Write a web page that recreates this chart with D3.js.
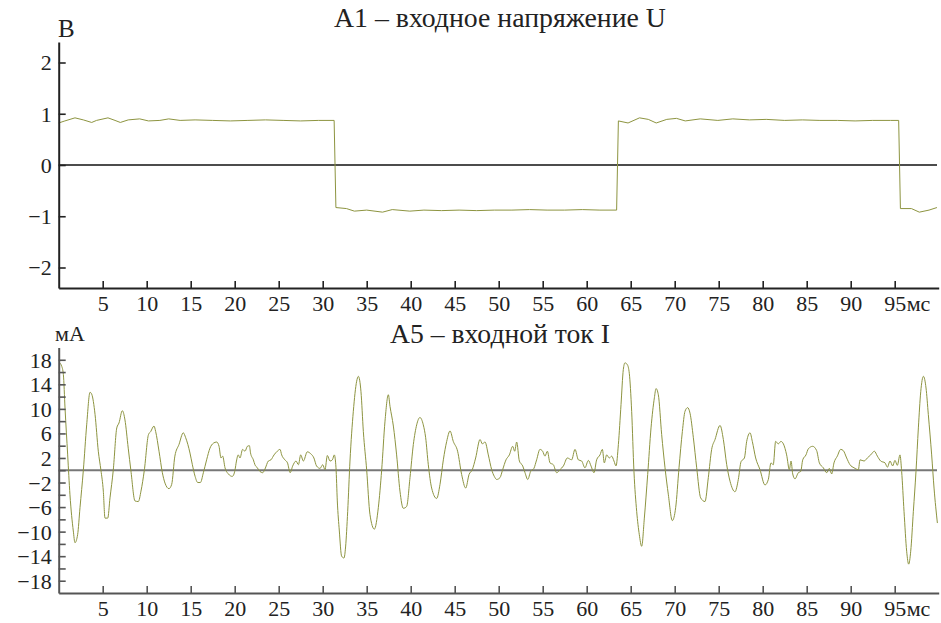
<!DOCTYPE html>
<html>
<head>
<meta charset="utf-8">
<script src="https://cdn.jsdelivr.net/npm/d3@7"></script>
<style>
  body { margin: 0; background: #fff; }
</style>
</head>
<body>
<div id="chart"></div>
<script>
// tick values
var xTicks = [5, 10, 15, 20, 25, 30, 35, 40, 45, 50, 55, 60, 65, 70, 75, 80, 85, 90, 95];
var uTicks = [-2, -1, 0, 1, 2];
var iTicks = [-18, -16, -14, -12, -10, -8, -6, -4, -2, 0, 2, 4, 6, 8, 10, 12, 14, 16, 18];
var iLabels = [-18, -14, -10, -6, -2, 2, 6, 10, 14, 18];

// A1 - input voltage, [ms, V]
var voltage = [
  [0, 0.82], [0.7, 0.86], [1.85, 0.92], [2.8, 0.88], [3.75, 0.83], [4.3, 0.87], [5.6, 0.92],
  [6.4, 0.87], [7.0, 0.83], [7.9, 0.88], [9.2, 0.90], [10.2, 0.86], [11.5, 0.87], [12.5, 0.90],
  [13.8, 0.87], [15.5, 0.88], [17.5, 0.87], [19.5, 0.86], [21.5, 0.87], [23.5, 0.88], [25.5, 0.87],
  [27.5, 0.86], [29.5, 0.87], [31.3, 0.87],
  [31.5, -0.83], [32.7, -0.85], [33.6, -0.90], [35.0, -0.88], [36.8, -0.92], [37.9, -0.87],
  [39.9, -0.90], [41.5, -0.88], [43.5, -0.89], [45.5, -0.88], [47.5, -0.89], [49.5, -0.88],
  [51.5, -0.88], [53.5, -0.87], [55.5, -0.88], [57.5, -0.88], [59.5, -0.87], [61.5, -0.88], [63.4, -0.88],
  [63.6, 0.86], [64.7, 0.82], [66.0, 0.92], [67.0, 0.89], [67.9, 0.82], [69.1, 0.89], [70.2, 0.91],
  [71.2, 0.86], [72.9, 0.90], [74.9, 0.87], [76.6, 0.90], [78.5, 0.88], [80.4, 0.89], [82.5, 0.87],
  [84.5, 0.88], [86.5, 0.87], [88.5, 0.87], [90.5, 0.86], [92.5, 0.87], [94.5, 0.87], [95.45, 0.87],
  [95.65, -0.85], [96.9, -0.85], [97.8, -0.92], [98.9, -0.88], [99.8, -0.83]
];

// A5 - input current, [ms, mA]
var current = [
  [0.03, 17.6], [0.33, 17.0], [0.53, 15.6], [0.72, 10.1], [1.02, 2.5], [1.28, -4], [1.66, -9.9],
  [1.85, -11.8], [2.15, -10.5], [2.42, -6.1], [2.8, 0], [3.18, 7.4], [3.56, 12.7], [3.75, 12.4],
  [4.13, 9.1], [4.5, 3.1], [4.8, 0], [5.07, -3.4], [5.26, -7.8], [5.57, -7.8], [5.83, -4.5], [6.2, 0],
  [6.6, 6.9], [6.85, 7.7], [7.23, 9.7], [7.53, 8.2], [7.9, 3.6], [8.2, 0], [8.67, -5.0], [9.05, -5.1],
  [9.35, -3.4], [9.73, 0], [10.2, 5.8], [10.45, 6.3], [10.83, 7.2], [11.02, 6.3], [11.4, 3.1],
  [11.78, -0.4], [12.08, -2.1], [12.53, -3.0], [12.84, -2.3], [13.2, 2.3], [13.67, 4.2], [14.16, 6.1],
  [14.43, 5.3], [14.92, 2.8], [15.19, 0.9], [15.5, -1.0], [15.8, -2.0], [16.1, -2.0], [16.44, -0.4],
  [16.81, 1.7], [17.19, 3.6], [17.57, 4.4], [17.95, 4.6], [18.22, 3.9], [18.44, 2.0], [18.63, 2.3],
  [18.9, 0.4], [19.28, -0.6], [19.73, -1.0], [20.03, 0], [20.2, 1.5], [20.4, 2.5], [20.6, 2.0],
  [20.9, 3.4], [21.17, 3.1], [21.44, 3.9], [21.67, 4.0], [21.8, 2.8], [22.12, 1.7], [22.3, 0.9],
  [22.57, 0.4], [22.87, -0.2], [23.18, -0.4], [23.44, 0.2], [23.82, 1.5], [24.12, 1.7], [24.47, 2.5],
  [24.84, 3.1], [25.15, 3.4], [25.34, 2.5], [25.7, 1.7], [26.0, 1.2], [26.3, -0.4], [26.59, 0.7],
  [26.97, 1.5], [27.24, 0.9], [27.5, 2.5], [27.8, 1.5], [28.25, 3.0], [28.63, 2.7], [29.0, 2.0],
  [29.3, 0.7], [29.7, 0.3], [30.0, 0.9], [30.26, 0.1], [30.53, 2.4], [30.83, 1.5], [31.1, 1.7],
  [31.32, 2.5], [31.51, 0.4], [31.66, -5.0], [31.89, -9.9], [32.15, -14.0], [32.42, -14.3],
  [32.6, -12.5], [32.84, -6.7], [33.1, 1.5], [33.48, 9.6], [33.86, 14.5], [34.05, 15.3], [34.35, 12.8],
  [34.62, 6.3], [35.0, 0], [35.37, -7.2], [35.87, -9.6], [36.32, -6.1], [36.7, 0], [37.08, 8.0],
  [37.46, 12.3], [37.65, 10.4], [38.03, 7.2], [38.4, 2.5], [38.78, -3.4], [39.16, -6.2], [39.54, -5.9],
  [39.92, -1.2], [40.3, 4.2], [40.68, 7.4], [41.05, 8.6], [41.43, 7.4], [41.7, 5.3], [42.0, 0.9],
  [42.38, -2.9], [42.95, -4.6], [43.33, -2.3], [43.71, 1.7], [44.09, 4.7], [44.47, 6.4], [44.84, 4.7],
  [45.33, 3.1], [45.79, -0.7], [46.25, -2.9], [46.63, -0.7], [47.0, 0.1], [47.38, 2.0], [47.88, 5.0],
  [48.14, 4.3], [48.45, 4.6], [48.82, 2.5], [49.2, 0.1], [49.5, -1.0], [49.77, -1.5], [50.15, -1.2],
  [50.45, 0.1], [50.83, 1.7], [51.21, 2.5], [51.59, 3.9], [51.82, 3.1], [52.04, 4.6], [52.35, 1.5],
  [52.73, 0.7], [52.99, -0.4], [53.3, -1.5], [53.63, -0.2], [54.0, 0.3], [54.31, 1.7], [54.69, 3.4],
  [54.99, 3.1], [55.26, 2.3], [55.53, 3.1], [55.83, 1.2], [56.21, 0.9], [56.59, -0.4], [56.97, 0.1],
  [57.35, 0.7], [57.8, 2.0], [58.29, 1.7], [58.67, 3.4], [59.05, 1.7], [59.43, 1.5], [59.8, 0.4],
  [60.19, 1.6], [60.49, 0.7], [60.83, -0.4], [61.13, 1.7], [61.51, 2.5], [61.78, 3.4], [62.0, 1.2],
  [62.27, 2.5], [62.57, 2.0], [62.84, 2.3], [63.1, 1.5], [63.33, 0.7], [63.6, 4.2], [63.9, 10.7],
  [64.16, 16.4], [64.35, 17.5], [64.62, 17.2], [64.84, 15.8], [65.11, 9.6], [65.37, -0.2], [65.68, -6.7],
  [65.98, -10.5], [66.25, -12.4], [66.55, -7.8], [66.93, -0.7], [67.31, 6.9], [67.69, 11.8],
  [67.88, 13.3], [68.14, 12.3], [68.52, 5.8], [68.9, 0.4], [69.28, -4.0], [69.73, -8.2], [70.11, -6.1],
  [70.49, 0.4], [70.87, 6.3], [71.17, 9.6], [71.47, 10.2], [71.74, 9.3], [72.12, 5.3], [72.5, 0.4],
  [72.95, -4.5], [73.44, -5.1], [73.82, -1.2], [74.2, 3.4], [74.58, 5.0], [75.15, 7.3], [75.53, 5.0],
  [75.91, 0.9], [76.29, -1.8], [76.85, -3.5], [77.23, -1.5], [77.54, 1.4], [77.92, 2.0], [78.18, 4.7],
  [78.56, 6.1], [78.82, 4.7], [79.2, 2.0], [79.69, 0.1], [80.26, -2.4], [80.64, -1.5], [80.94, 1.2],
  [81.2, 0.9], [81.47, 4.7], [81.77, 4.3], [82.07, 4.7], [82.35, 4.3], [82.72, 2.5], [83.03, 0.1],
  [83.22, 1.5], [83.41, -0.6], [83.67, -1.4], [84.05, -0.4], [84.32, -0.2], [84.55, 1.7], [84.92, 2.5],
  [85.19, 3.5], [85.68, 3.9], [86.13, 3.2], [86.44, 1.2], [86.89, 0.4], [87.27, -0.4], [87.57, 0.3],
  [87.84, -0.6], [88.1, 1.2], [88.48, 2.3], [88.86, 3.4], [89.16, 3.2], [89.54, 2.0], [89.92, 0.9],
  [90.38, 0.4], [90.87, 0.1], [91.06, 1.7], [91.52, 1.5], [91.89, 2.0], [92.27, 2.5], [92.69, 3.1],
  [93.03, 2.3], [93.41, 1.5], [93.9, 1.2], [94.17, 0.5], [94.47, 1.5], [94.77, 0.7], [95.03, 1.6],
  [95.3, 0.8], [95.6, 2.5], [95.79, -0.2], [96.06, -6.7], [96.36, -13.2], [96.59, -15.3], [96.82, -13.2],
  [97.12, -6.7], [97.42, -0.2], [97.69, 6.9], [97.96, 12.8], [98.26, 15.3], [98.56, 13.4], [98.82, 9.1],
  [99.2, 2.5], [99.47, -2.9], [99.85, -8.6]
];

var W = 941, H = 623;
var svg = d3.select("#chart").append("svg")
  .attr("width", W)
  .attr("height", H);
// all text in Liberation Serif, set as attribute on the root group
var root = svg.append("g")
  .attr("font-family", "Liberation Serif")
  .attr("font-size", 22)
  .attr("fill", "#222");

var x = d3.scaleLinear().domain([0, 100]).range([58.7, 938.7]);

function panel(opts) {
  var y = d3.scaleLinear().domain(opts.domain).range(opts.range);
  var g = root.append("g");

  // zero line
  g.append("line")
    .attr("x1", x(0)).attr("x2", 937)
    .attr("y1", y(0)).attr("y2", y(0))
    .attr("stroke", opts.zeroColor)
    .attr("stroke-width", opts.zeroWidth);

  // signal
  var line = d3.line()
    .curve(opts.curve)
    .x(function (d) { return x(d[0]); })
    .y(function (d) { return y(d[1]); });
  g.append("path")
    .datum(opts.data)
    .attr("d", line)
    .attr("fill", "none")
    .attr("stroke", "#8d9440")
    .attr("stroke-width", 1);

  // axes
  var xa = g.append("g")
    .attr("transform", "translate(0," + opts.range[0] + ")")
    .call(d3.axisBottom(x).tickValues(xTicks).tickSize(-7).tickSizeOuter(0).tickPadding(7));
  var ya = g.append("g")
    .attr("transform", "translate(" + x(0) + ",0)")
    .call(d3.axisLeft(y).tickValues(opts.ticks).tickSize(-7).tickSizeOuter(0).tickPadding(7)
      .tickFormat(opts.format));

  [xa, ya].forEach(function (a) {
    a.attr("font-family", "Liberation Serif").attr("font-size", 22);
    a.select(".domain").attr("stroke", opts.axisColor).attr("stroke-width", 2);
    a.selectAll(".tick line").attr("stroke", opts.axisColor).attr("stroke-width", 1.6);
    a.selectAll("text").attr("fill", "#222");
  });
  ya.selectAll("text").attr("dy", "0.34em");

  // unit on x axis
  g.append("text")
    .attr("x", x(95) + 12)
    .attr("y", opts.range[0] + 7)
    .attr("dy", "0.71em")
    .text("мс");

  // title, scaled to the width it has in the picture
  var t = g.append("text")
    .attr("x", 500).attr("y", opts.titleY)
    .attr("text-anchor", "middle")
    .attr("font-size", 22)
    .text(opts.title);
  var w = t.node().getComputedTextLength();
  if (w > 0) t.attr("font-size", Math.max(20, Math.min(28, 22 * opts.titleWidth / w)));

  g.append("text")
    .attr("x", opts.unitX).attr("y", opts.unitY)
    .attr("font-size", opts.unitSize)
    .text(opts.unit);
}

panel({
  data: voltage, domain: [-2.4, 2.4], range: [288, 42], ticks: uTicks,
  format: d3.format("d"), curve: d3.curveLinear,
  zeroColor: "#111", zeroWidth: 1.5, axisColor: "#222",
  title: "A1 – входное напряжение U", titleY: 27, titleWidth: 332,
  unit: "B", unitX: 58, unitY: 37, unitSize: 25
});

panel({
  data: current, domain: [-20, 20], range: [593, 347.5], ticks: iTicks,
  format: function (d) { return iLabels.indexOf(d) >= 0 ? d3.format("d")(d) : ""; },
  curve: d3.curveMonotoneX,
  zeroColor: "#777", zeroWidth: 2, axisColor: "#555",
  title: "A5 – входной ток I", titleY: 343, titleWidth: 220,
  unit: "мА", unitX: 55, unitY: 341, unitSize: 22
});
</script>
</body>
</html>
